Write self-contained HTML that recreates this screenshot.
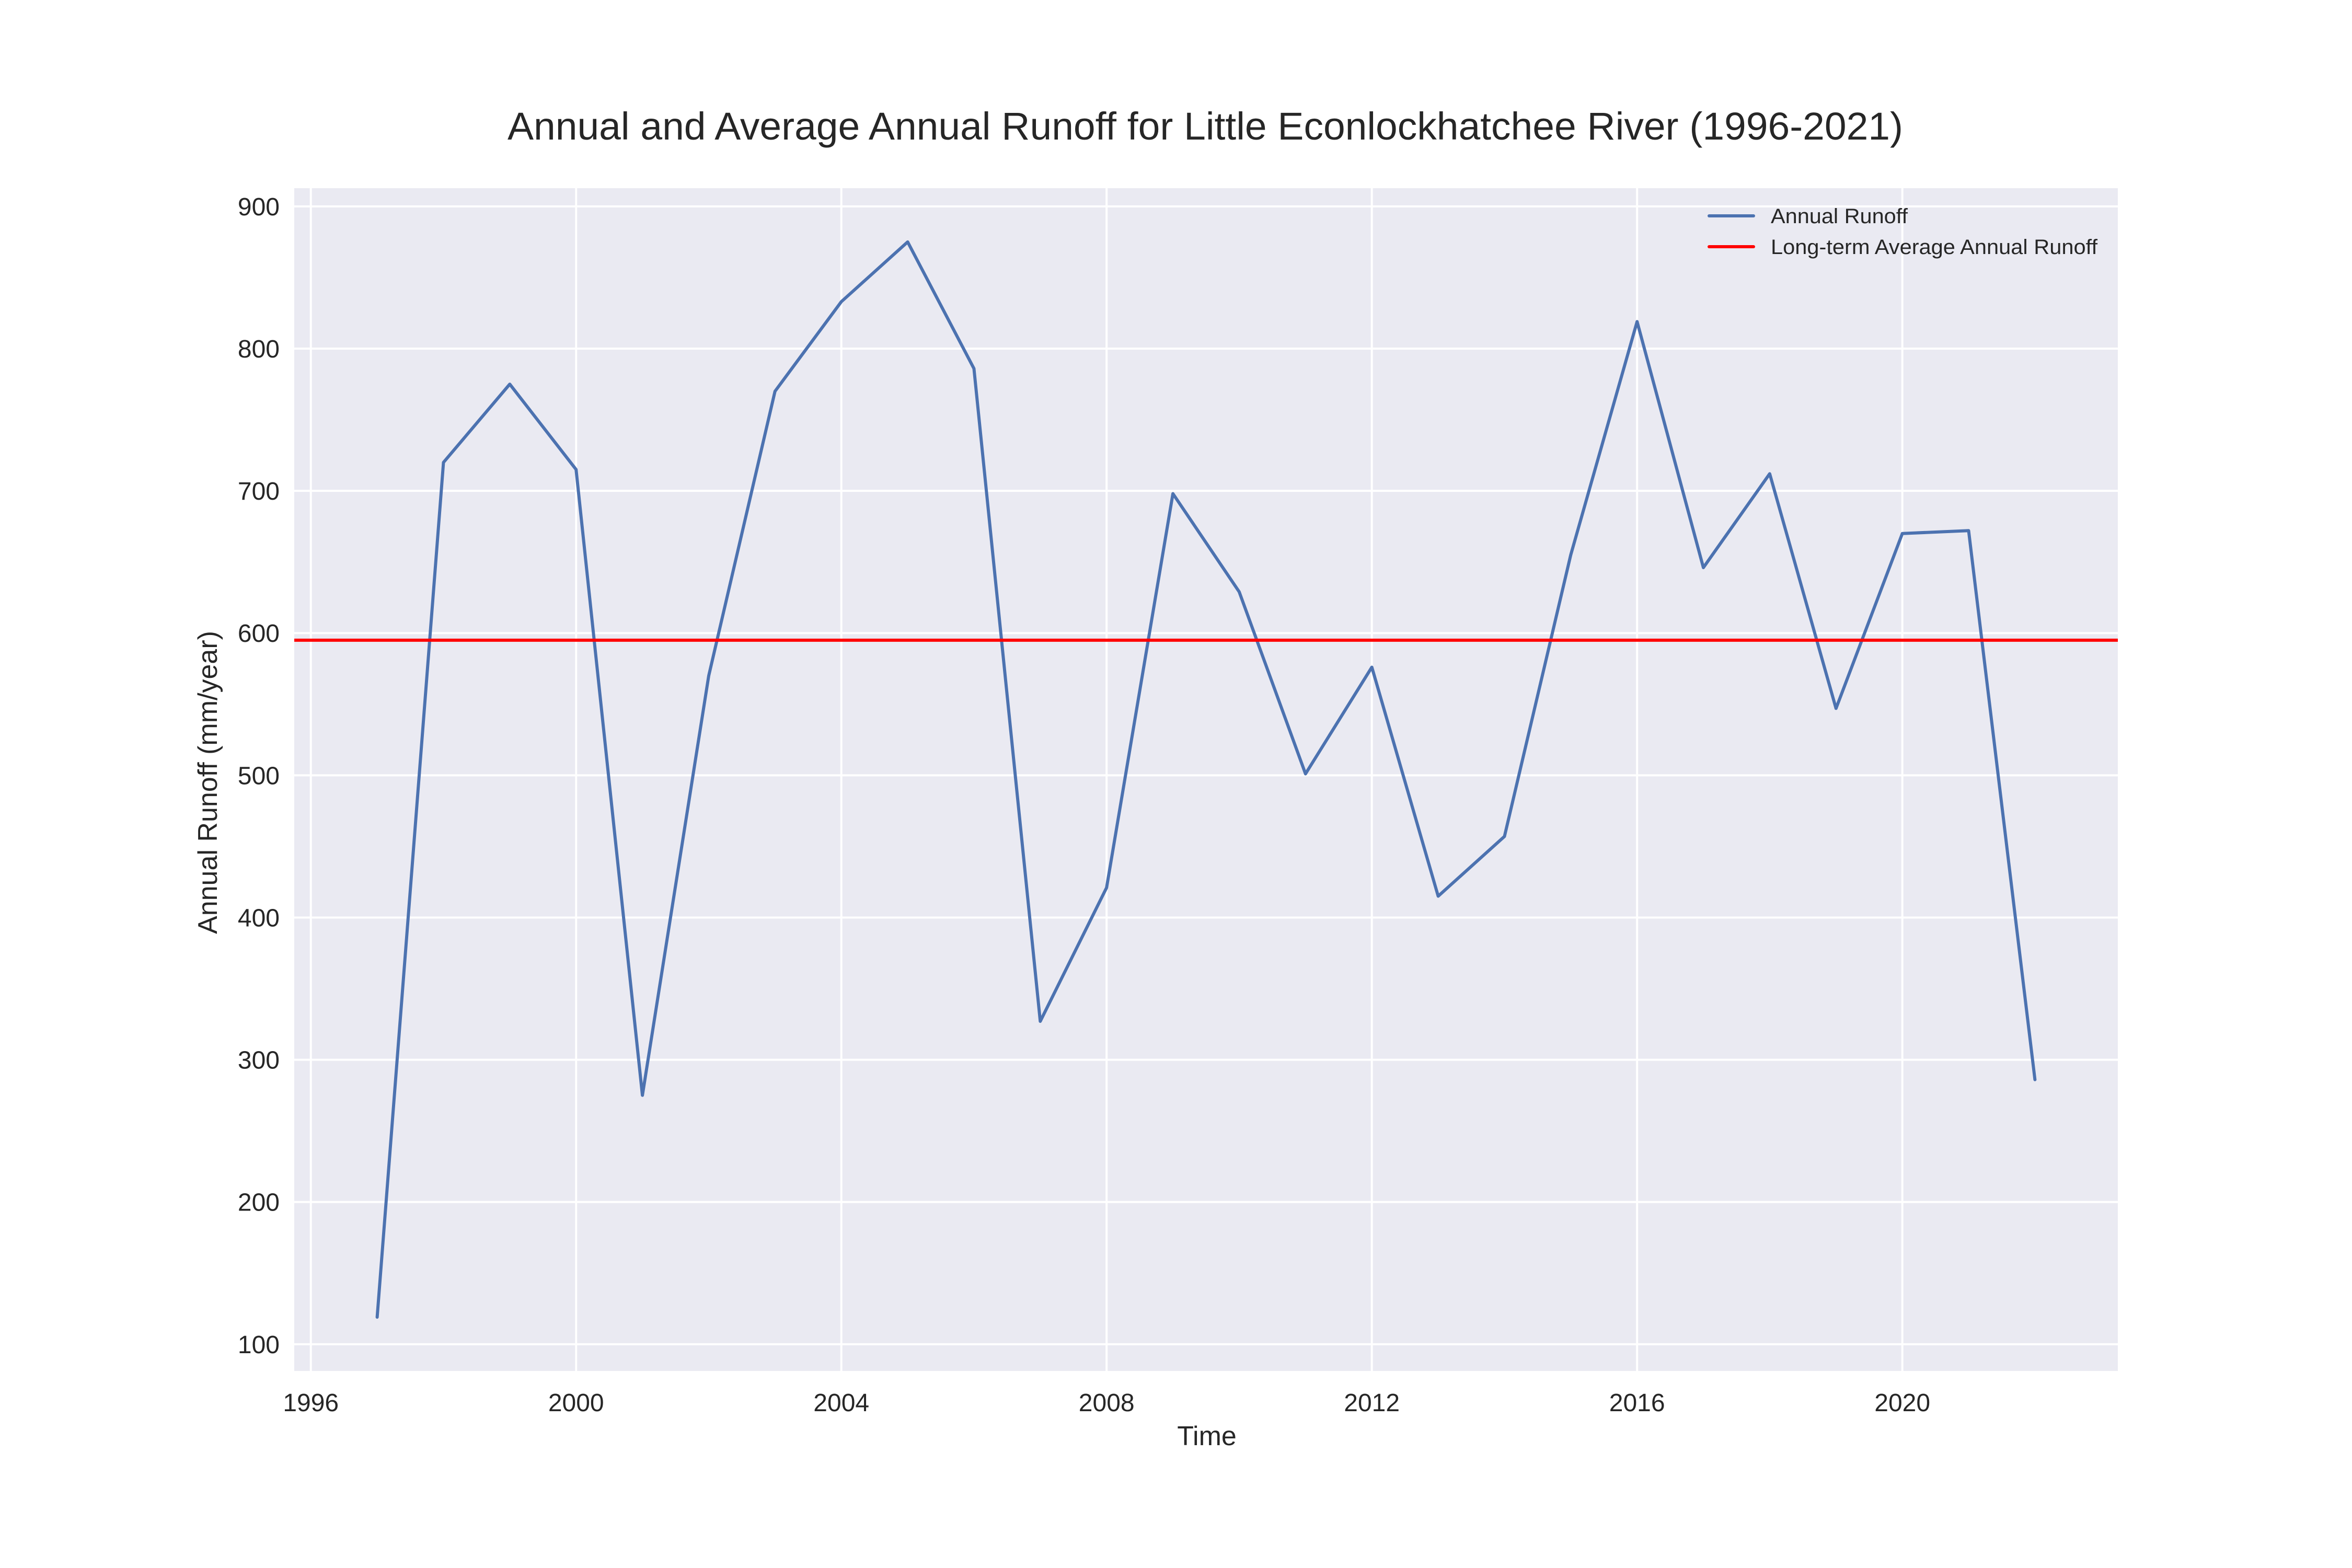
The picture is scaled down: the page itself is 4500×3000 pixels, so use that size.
<!DOCTYPE html>
<html><head><meta charset="utf-8"><style>html,body{margin:0;padding:0;background:#fff}svg{display:block}</style></head>
<body>
<svg id="chart" width="4500" height="3000" xmlns="http://www.w3.org/2000/svg" font-family="Liberation Sans, Arial, sans-serif">
<rect width="4500" height="3000" fill="#fff"/>
<text x="2306" y="267" font-size="74" fill="#262626" text-anchor="middle" textLength="2670" lengthAdjust="spacingAndGlyphs">Annual and Average Annual Runoff for Little Econlockhatchee River (1996-2021)</text>
<g id="plot"></g>
<text x="2309" y="2765" font-size="52" fill="#262626" text-anchor="middle">Time</text>
<text transform="translate(415,1497) rotate(-90)" font-size="52" fill="#262626" text-anchor="middle">Annual Runoff (mm/year)</text>
<g>
<line x1="3270" y1="413" x2="3355" y2="413" stroke="#4c72b0" stroke-width="6" stroke-linecap="round"/>
<text x="3388" y="427" font-size="40" fill="#262626" textLength="262" lengthAdjust="spacingAndGlyphs">Annual Runoff</text>
<line x1="3270" y1="472" x2="3355" y2="472" stroke="#ff0000" stroke-width="6" stroke-linecap="round"/>
<text x="3388" y="486" font-size="40" fill="#262626" textLength="625" lengthAdjust="spacingAndGlyphs">Long-term Average Annual Runoff</text>
</g>
</svg>
<script>
const years = [1997,1998,1999,2000,2001,2002,2003,2004,2005,2006,2007,2008,2009,2010,2011,2012,2013,2014,2015,2016,2017,2018,2019,2020,2021,2022];
const runoff = [119,720,775,715,275,570,770,833,875,786,327,421,698,629,501,576,415,457,655,819,646,712,547,670,672,286];
const averageRunoff = [595];
const xTicks = [1996,2000,2004,2008,2012,2016,2020];
const yTicks = [100,200,300,400,500,600,700,800,900];

const NS = "http://www.w3.org/2000/svg";
const L = 563, R = 4052, T = 360, B = 2623;
const xmin = Math.min(...years), xmax = Math.max(...years);
const xm = (xmax - xmin) * 0.05;
const ymin0 = Math.min(...runoff), ymax0 = Math.max(...runoff);
const ym = (ymax0 - ymin0) * 0.05;
const X0 = xmin - xm, X1 = xmax + xm, Y0 = ymin0 - ym, Y1 = ymax0 + ym;
function sx(v){ return L + (v - X0) / (X1 - X0) * (R - L); }
function sy(v){ return B - (v - Y0) / (Y1 - Y0) * (B - T); }
function mk(tag, attrs){ const e = document.createElementNS(NS, tag); for (const k in attrs) e.setAttribute(k, attrs[k]); return e; }
const g = document.getElementById('plot');

const bg = mk('rect', {x:L, y:T, width:R-L, height:B-T, fill:'#eaeaf2'});


g.appendChild(bg);

xTicks.forEach(t => {
  const ln = mk('line', {x1:sx(t), x2:sx(t), y1:T, y2:B, stroke:'#fff', 'stroke-width':4});
  
  
  g.appendChild(ln);
  const tx = mk('text', {x:sx(t), y:2700, 'font-size':48, fill:'#262626', 'text-anchor':'middle'});
  tx.textContent = t;
  
  
  g.appendChild(tx);
});
yTicks.forEach(t => {
  const ln = mk('line', {x1:L, x2:R, y1:sy(t), y2:sy(t), stroke:'#fff', 'stroke-width':4});
  
  
  g.appendChild(ln);
  const tx = mk('text', {x:535, y:sy(t)+17, 'font-size':48, fill:'#262626', 'text-anchor':'end'});
  tx.textContent = t;
  
  
  g.appendChild(tx);
});

const pts = years.map((y,i) => sx(y).toFixed(1) + ',' + sy(runoff[i]).toFixed(1)).join(' ');
const line = mk('polyline', {points:pts, fill:'none', stroke:'#4c72b0', 'stroke-width':6, 'stroke-linejoin':'round', 'stroke-linecap':'round'});


g.appendChild(line);

const avg = mk('line', {x1:L, x2:R, y1:sy(averageRunoff[0]), y2:sy(averageRunoff[0]), stroke:'#ff0000', 'stroke-width':6});


g.appendChild(avg);
</script>
</body></html>
